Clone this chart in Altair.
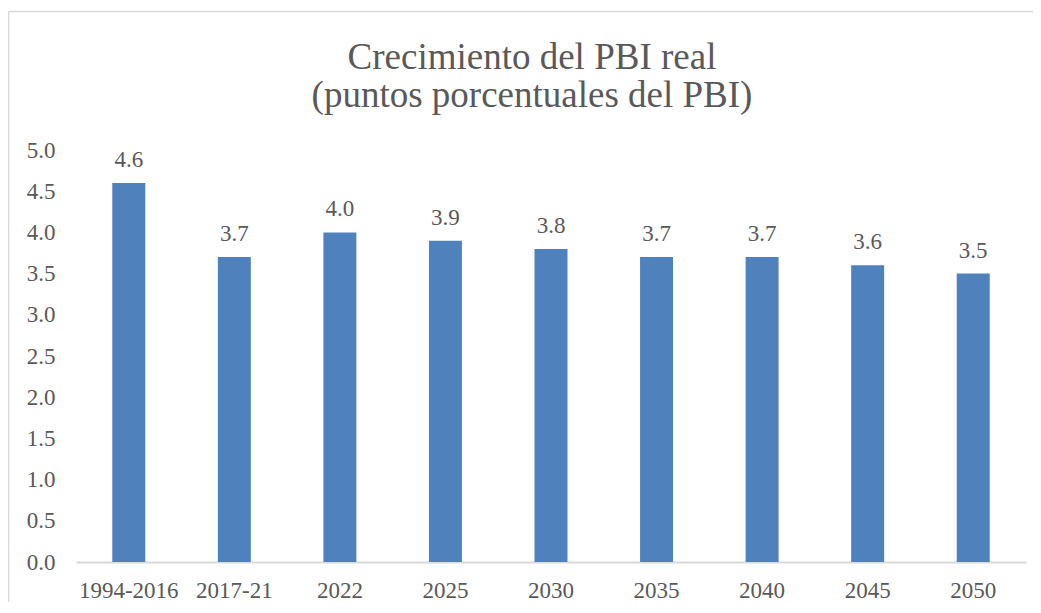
import altair as alt
import pandas as pd

categories = ["1994-2016", "2017-21", "2022", "2025", "2030", "2035", "2040", "2045", "2050"]
values = [4.6, 3.7, 4.0, 3.9, 3.8, 3.7, 3.7, 3.6, 3.5]
y_ticks = [0.0, 0.5, 1.0, 1.5, 2.0, 2.5, 3.0, 3.5, 4.0, 4.5, 5.0]
title_lines = ["Crecimiento del PBI real", "(puntos porcentuales del PBI)"]

df = pd.DataFrame({"cat": categories, "val": values})
one = pd.DataFrame({"k": [0]})

FONT = "Liberation Serif"
TXT = "#595959"
BORDER = "#d9d9d9"

x_enc = alt.X("cat:N", sort=categories, title=None,
              scale=alt.Scale(paddingInner=0.6875, paddingOuter=0.34375),
              axis=alt.Axis(labelAngle=0, ticks=False, domainColor=BORDER, domainWidth=2,
                            grid=False,
                            labelPadding=17, labelFontSize=23, labelFont=FONT, labelColor=TXT))
y_enc = alt.Y("val:Q", title=None,
              scale=alt.Scale(domain=[0, 5], nice=False),
              axis=alt.Axis(values=y_ticks, format=".1f", grid=False, domain=False, ticks=False,
                            labelPadding=21, labelFontSize=23, labelFont=FONT, labelColor=TXT))

bars = alt.Chart(df).mark_bar(color="#4F81BD").encode(x=x_enc, y=y_enc)
labels = alt.Chart(df).mark_text(font=FONT, fontSize=23, color=TXT, dy=-16,
                                 baseline="alphabetic").encode(
    x=alt.X("cat:N", sort=categories),
    y=alt.Y("val:Q"),
    text=alt.Text("val:Q", format=".1f"))

border_left = alt.Chart(one).mark_rule(color=BORDER, strokeWidth=1.5).encode(
    x=alt.value(-67.5), y=alt.value(-138.5), y2=alt.value(3000))
border_top = alt.Chart(one).mark_rule(color=BORDER, strokeWidth=1.5).encode(
    y=alt.value(-138.5), x=alt.value(-67.5), x2=alt.value(3000))

title1 = alt.Chart(one).mark_text(text=title_lines[0], font=FONT, fontSize=37, color=TXT,
                                  align="center", baseline="alphabetic").encode(
    x=alt.value(456), y=alt.value(-81))
title2 = alt.Chart(one).mark_text(text=title_lines[1], font=FONT, fontSize=37, color=TXT,
                                  align="center", baseline="alphabetic").encode(
    x=alt.value(456), y=alt.value(-43))

chart = alt.layer(border_left, border_top, bars, labels, title1, title2).properties(
    width=950, height=412,
    background="white",
    view=alt.ViewBackground(stroke=None, strokeWidth=0),
    autosize=alt.AutoSizeParams(type="none"),
    padding={"left": 68, "top": 142, "right": 7, "bottom": 40},
).configure_view(stroke=None, strokeWidth=0)

chart.save("out.html", embed_options={"renderer": "svg", "actions": False})
